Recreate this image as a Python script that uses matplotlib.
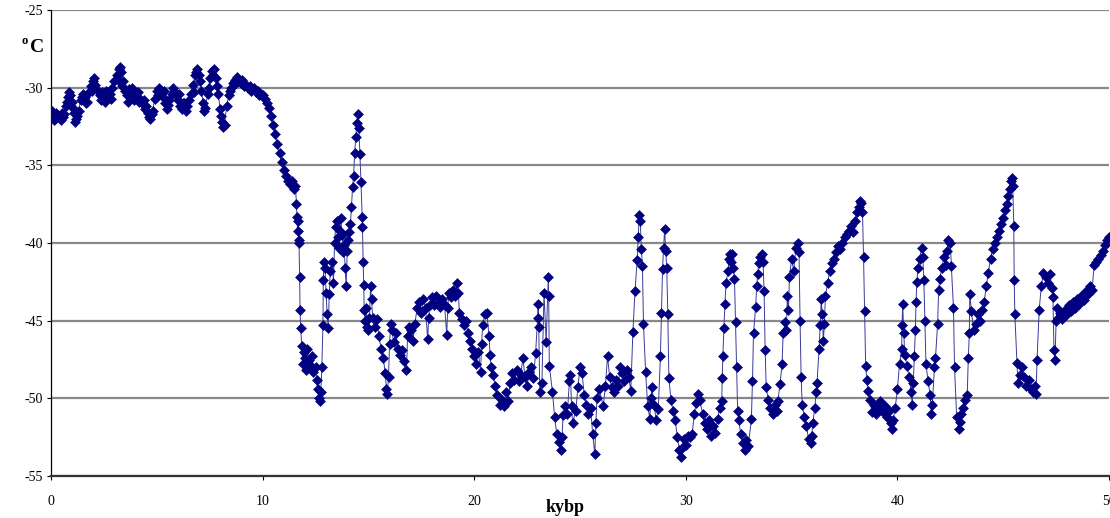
import numpy as np
import matplotlib
matplotlib.use("Agg")
import matplotlib.pyplot as plt

# GISP2-style temperature record (age in kyr BP, temperature in deg C)
holocene = [
    (0.0, -31.7), (0.05, -31.5), (0.1, -31.9), (0.15, -32.1), (0.2, -32.0), (0.25, -31.6),
    (0.3, -31.8), (0.4, -31.9), (0.45, -32.1), (0.5, -31.6), (0.55, -31.9), (0.6, -31.7),
    (0.7, -31.2), (0.75, -30.9), (0.8, -30.6), (0.85, -30.3), (0.9, -30.5), (1.0, -30.9),
    (1.05, -31.3), (1.1, -31.6), (1.15, -32.2), (1.2, -32.0), (1.25, -31.8), (1.3, -31.5),
    (1.4, -30.8), (1.45, -30.6), (1.5, -30.4), (1.6, -30.6), (1.65, -31.0), (1.7, -30.9),
    (1.8, -30.3), (1.9, -29.9), (1.95, -30.2), (2.0, -29.6), (2.05, -29.4), (2.1, -29.8),
    (2.2, -30.2), (2.3, -30.5), (2.35, -30.8), (2.4, -30.3), (2.5, -30.6), (2.55, -30.9),
    (2.6, -30.2), (2.7, -30.5), (2.8, -30.4), (2.85, -30.7), (2.9, -30.0), (3.0, -29.6),
    (3.1, -29.2), (3.15, -29.5), (3.2, -28.8), (3.25, -28.7), (3.3, -29.0), (3.35, -29.9),
    (3.4, -29.6), (3.5, -30.2), (3.6, -30.5), (3.65, -30.9), (3.7, -30.1), (3.8, -30.4),
    (3.85, -30.0), (3.9, -30.8), (4.0, -30.6), (4.1, -30.3), (4.15, -30.9), (4.2, -30.7),
    (4.3, -31.0), (4.4, -30.8), (4.45, -31.4), (4.5, -31.2), (4.6, -31.6), (4.65, -31.9),
    (4.7, -32.0), (4.75, -31.7), (4.8, -31.5), (4.9, -30.7), (5.0, -30.2), (5.05, -30.5),
    (5.1, -30.0), (5.2, -30.4), (5.3, -30.6), (5.35, -30.2), (5.4, -31.0), (5.5, -31.4),
    (5.55, -31.1), (5.6, -30.8), (5.7, -30.4), (5.75, -30.0), (5.8, -30.2), (5.9, -30.5),
    (6.0, -30.8), (6.05, -30.4), (6.1, -31.2), (6.2, -31.4), (6.25, -31.0), (6.3, -31.0),
    (6.4, -31.5), (6.45, -31.2), (6.5, -30.8), (6.6, -30.4), (6.7, -29.8), (6.75, -30.3),
    (6.8, -29.2), (6.85, -29.0), (6.9, -28.8), (7.0, -29.2), (7.05, -29.6), (7.1, -30.2),
    (7.2, -31.0), (7.25, -31.5), (7.3, -31.3), (7.4, -30.4), (7.45, -30.0), (7.5, -29.4),
    (7.6, -28.9), (7.65, -29.2), (7.7, -28.8), (7.8, -29.4), (7.85, -29.9), (7.9, -30.4),
    (8.0, -31.4), (8.05, -31.8), (8.1, -32.2), (8.15, -32.5), (8.2, -32.4), (8.3, -31.2),
    (8.4, -30.5), (8.45, -30.2), (8.5, -30.0), (8.6, -29.7), (8.7, -29.5), (8.75, -29.7),
    (8.8, -29.3), (8.9, -29.5), (9.0, -29.7), (9.05, -29.5), (9.1, -29.9), (9.2, -29.8),
    (9.3, -30.0), (9.4, -29.9), (9.45, -30.2), (9.5, -30.1), (9.6, -30.0), (9.7, -30.3),
    (9.8, -30.2), (9.85, -30.5), (9.9, -30.4), (10.0, -30.5),
]

deglacial = [
    (10.1, -30.7), (10.2, -31.0), (10.3, -31.3), (10.4, -31.8), (10.5, -32.4), (10.6, -33.0),
    (10.7, -33.6), (10.8, -34.2), (10.9, -34.8), (11.0, -35.3), (11.1, -35.7), (11.2, -36.0),
    (11.3, -36.2), (11.4, -36.0), (11.5, -36.5), (11.55, -36.3), (11.6, -37.5), (11.62, -38.3),
    (11.65, -39.2), (11.68, -38.6), (11.7, -39.8), (11.72, -40.0), (11.75, -42.2), (11.77, -44.3),
    (11.8, -45.5), (11.85, -46.6), (11.9, -47.8), (11.95, -47.0), (12.0, -47.4), (12.05, -48.2),
    (12.1, -46.8), (12.2, -47.5), (12.3, -47.9), (12.35, -47.3), (12.4, -48.3), (12.5, -48.0),
    (12.55, -48.8), (12.6, -49.4), (12.65, -50.0), (12.7, -50.2), (12.75, -49.6), (12.8, -48.0),
    (12.85, -45.3), (12.87, -42.4), (12.9, -41.2), (12.95, -41.6), (13.0, -43.2), (13.05, -44.6),
    (13.1, -45.5), (13.15, -43.3), (13.2, -41.8), (13.3, -41.2), (13.35, -42.6), (13.4, -40.0),
    (13.45, -39.0), (13.5, -38.6), (13.55, -39.6), (13.6, -40.3), (13.65, -39.2), (13.7, -38.4),
    (13.75, -39.5), (13.8, -40.6), (13.85, -40.1), (13.9, -41.6), (13.95, -42.8), (14.0, -40.5),
    (14.05, -39.8), (14.1, -39.3), (14.15, -38.8), (14.2, -37.7), (14.25, -36.4), (14.3, -35.7),
    (14.35, -34.2), (14.4, -33.2), (14.45, -32.3), (14.5, -31.7), (14.55, -32.6), (14.6, -34.3),
    (14.65, -36.1), (14.7, -38.3), (14.72, -39.0), (14.75, -41.2), (14.78, -42.7), (14.8, -44.3),
    (14.85, -45.0), (14.9, -44.2), (14.95, -45.4), (15.0, -45.6), (15.05, -44.8), (15.1, -42.8),
    (15.15, -43.6), (15.2, -44.8), (15.3, -45.4), (15.4, -44.9), (15.5, -46.0), (15.6, -46.8),
    (15.7, -47.4), (15.8, -48.4), (15.85, -49.4), (15.9, -49.7), (15.95, -48.6), (16.0, -46.5),
    (16.05, -45.2), (16.1, -45.6), (16.2, -46.4), (16.3, -45.8), (16.4, -46.8), (16.5, -47.2),
    (16.6, -46.9), (16.7, -47.6), (16.8, -48.2), (16.85, -46.0), (16.9, -45.4), (17.0, -45.6),
    (17.1, -46.3), (17.2, -45.2), (17.3, -44.2), (17.4, -43.8), (17.5, -44.5), (17.6, -43.6),
    (17.7, -44.2), (17.8, -46.2), (17.85, -44.8), (17.9, -44.0), (18.0, -43.5), (18.1, -44.0),
    (18.2, -43.4), (18.3, -43.9), (18.4, -44.1), (18.5, -43.6), (18.6, -44.0), (18.7, -45.9),
    (18.75, -44.2), (18.8, -43.2), (18.9, -43.5), (19.0, -43.0), (19.1, -43.4), (19.2, -42.6),
    (19.25, -43.2), (19.3, -44.5), (19.4, -44.9), (19.5, -45.3), (19.6, -45.0), (19.7, -45.8),
    (19.8, -46.3), (19.9, -46.8), (20.0, -47.3),
]

stadials_20_30 = [
    (20.1, -47.8), (20.2, -47.0), (20.3, -48.3), (20.35, -46.5), (20.4, -45.3), (20.5, -44.6),
    (20.6, -44.5), (20.7, -46.0), (20.75, -47.2), (20.8, -48.0), (20.9, -48.5), (21.0, -49.2),
    (21.1, -49.8), (21.2, -50.4), (21.3, -50.1), (21.4, -50.5), (21.5, -49.6), (21.6, -50.2),
    (21.7, -49.0), (21.8, -48.4), (21.9, -48.8), (22.0, -48.2), (22.1, -48.9), (22.2, -48.5),
    (22.3, -47.4), (22.4, -48.6), (22.5, -49.2), (22.6, -48.3), (22.7, -48.0), (22.8, -48.7),
    (22.9, -47.1), (23.0, -44.8), (23.02, -43.9), (23.05, -45.4), (23.1, -49.6), (23.2, -49.0),
    (23.3, -43.2), (23.4, -46.4), (23.5, -42.2), (23.52, -43.4), (23.55, -47.9), (23.7, -49.6),
    (23.8, -51.2), (23.9, -52.3), (24.0, -52.8), (24.1, -53.3), (24.15, -52.5), (24.2, -51.1),
    (24.3, -50.5), (24.4, -51.0), (24.5, -48.9), (24.55, -48.5), (24.6, -50.5), (24.65, -51.6),
    (24.8, -50.8), (24.9, -49.3), (25.0, -48.0), (25.1, -48.4), (25.2, -49.8), (25.3, -50.4),
    (25.4, -51.0), (25.5, -50.6), (25.6, -52.3), (25.7, -53.6), (25.75, -51.6), (25.8, -50.0),
    (25.9, -49.4), (26.1, -50.5), (26.2, -49.2), (26.3, -47.3), (26.4, -48.6), (26.5, -49.3),
    (26.6, -49.6), (26.7, -48.8), (26.8, -49.2), (26.9, -48.0), (27.0, -48.4), (27.1, -48.9),
    (27.2, -48.2), (27.3, -48.6), (27.4, -49.5), (27.5, -45.7), (27.6, -43.1), (27.7, -41.1),
    (27.75, -39.6), (27.8, -38.2), (27.85, -38.6), (27.9, -40.4), (27.95, -41.5), (28.0, -45.2),
    (28.1, -48.3), (28.2, -50.5), (28.3, -51.3), (28.35, -50.0), (28.4, -49.3), (28.5, -50.4),
    (28.6, -51.4), (28.7, -50.7), (28.8, -47.3), (28.85, -44.5), (28.9, -41.7), (28.95, -40.3),
    (29.0, -39.1), (29.05, -40.5), (29.1, -41.6), (29.15, -44.6), (29.2, -48.7), (29.3, -50.1),
    (29.4, -50.8), (29.5, -51.4), (29.6, -52.5), (29.7, -53.3), (29.75, -53.8), (29.8, -53.2),
    (29.9, -52.6), (30.0, -53.0), (30.1, -52.4), (30.2, -52.5),
]

stadials_30_40 = [
    (30.3, -52.3), (30.4, -51.0), (30.5, -50.3), (30.6, -49.7), (30.65, -50.1), (30.8, -51.0),
    (30.9, -51.6), (31.0, -52.0), (31.1, -51.4), (31.2, -52.4), (31.3, -51.8), (31.4, -52.2),
    (31.5, -51.3), (31.6, -50.6), (31.7, -50.2), (31.72, -48.7), (31.75, -47.3), (31.8, -45.5),
    (31.85, -43.9), (31.9, -42.6), (32.0, -41.8), (32.05, -41.0), (32.1, -40.7), (32.15, -41.2),
    (32.2, -40.7), (32.25, -41.6), (32.3, -42.3), (32.35, -45.1), (32.4, -48.0), (32.45, -50.8),
    (32.5, -51.4), (32.6, -52.3), (32.7, -52.9), (32.8, -53.3), (32.85, -52.7), (32.95, -53.1),
    (33.1, -51.3), (33.15, -48.9), (33.2, -45.8), (33.3, -44.1), (33.35, -42.8), (33.4, -42.0),
    (33.45, -41.3), (33.5, -40.9), (33.6, -40.7), (33.65, -41.2), (33.7, -43.1), (33.75, -46.9),
    (33.8, -49.3), (33.9, -50.1), (34.0, -50.6), (34.1, -51.0), (34.2, -50.4), (34.3, -50.8),
    (34.35, -50.2), (34.45, -49.1), (34.55, -47.8), (34.6, -45.8), (34.7, -45.1), (34.75, -45.6),
    (34.8, -43.4), (34.85, -44.3), (34.9, -42.2), (35.0, -41.0), (35.1, -41.8), (35.2, -40.3),
    (35.3, -40.0), (35.35, -40.6), (35.4, -45.0), (35.45, -48.6), (35.5, -50.4), (35.6, -51.2),
    (35.7, -51.8), (35.8, -52.6), (35.9, -52.9), (35.95, -52.4), (36.0, -51.6), (36.1, -50.6),
    (36.15, -49.6), (36.2, -49.0), (36.3, -46.8), (36.35, -45.3), (36.4, -43.6), (36.45, -44.6),
    (36.5, -46.3), (36.55, -45.2), (36.6, -43.4), (36.7, -42.6), (36.8, -41.8), (36.9, -41.3),
    (37.0, -41.0), (37.1, -40.6), (37.2, -40.2), (37.3, -40.4), (37.4, -40.0), (37.5, -39.6),
    (37.6, -39.4), (37.7, -39.2), (37.8, -38.9), (37.9, -39.3), (38.0, -38.6), (38.1, -38.0),
    (38.2, -37.7), (38.25, -37.3), (38.3, -37.4), (38.35, -38.0), (38.4, -40.9), (38.45, -44.4),
    (38.5, -47.9), (38.55, -48.8), (38.6, -49.5), (38.7, -50.1), (38.8, -50.9), (38.9, -50.4),
    (39.0, -51.0), (39.1, -50.6), (39.2, -50.2), (39.3, -50.9), (39.4, -50.5), (39.5, -51.2),
    (39.6, -50.8), (39.7, -51.6), (39.75, -52.0), (39.8, -51.4), (39.9, -50.6),
]

stadials_40_50 = [
    (40.0, -49.4), (40.1, -47.8), (40.2, -46.8), (40.22, -45.3), (40.25, -43.9), (40.3, -45.8),
    (40.35, -47.2), (40.45, -47.9), (40.55, -48.6), (40.65, -49.6), (40.7, -50.4), (40.75, -49.0),
    (40.8, -47.3), (40.85, -45.6), (40.88, -43.8), (40.92, -42.5), (40.97, -41.6), (41.05, -41.0),
    (41.15, -40.3), (41.2, -40.9), (41.25, -42.4), (41.3, -45.0), (41.35, -47.8), (41.45, -48.9),
    (41.55, -49.8), (41.6, -51.0), (41.65, -50.4), (41.75, -48.0), (41.8, -47.4), (41.9, -45.2),
    (41.95, -43.0), (42.0, -42.3), (42.1, -41.6), (42.2, -40.9), (42.3, -41.4), (42.35, -40.5),
    (42.4, -39.8), (42.5, -40.0), (42.55, -41.5), (42.65, -44.2), (42.7, -48.0), (42.8, -51.2),
    (42.9, -52.0), (42.95, -51.5), (43.0, -51.0), (43.1, -50.6), (43.2, -50.1), (43.3, -49.8),
    (43.35, -47.4), (43.4, -45.8), (43.42, -43.3), (43.5, -44.4), (43.6, -45.6), (43.7, -45.2),
    (43.8, -44.6), (43.9, -45.0), (44.0, -44.3), (44.1, -43.8), (44.2, -42.8), (44.3, -41.9),
    (44.4, -41.0), (44.5, -40.4), (44.6, -40.0), (44.7, -39.6), (44.8, -39.2), (44.9, -38.8),
    (45.0, -38.4), (45.1, -37.9), (45.2, -37.5), (45.25, -37.0), (45.3, -36.5), (45.35, -36.0),
    (45.4, -35.8), (45.45, -36.3), (45.5, -38.9), (45.52, -42.4), (45.55, -44.6), (45.65, -47.7),
    (45.7, -49.0), (45.8, -48.5), (45.9, -48.0), (46.0, -48.6), (46.1, -49.2), (46.2, -48.8),
    (46.3, -49.4), (46.4, -49.6), (46.5, -49.2), (46.55, -49.7), (46.6, -47.5), (46.7, -44.3),
    (46.8, -42.8), (46.9, -41.9), (47.0, -42.2), (47.1, -42.6), (47.2, -42.0), (47.3, -42.9),
    (47.35, -43.5), (47.4, -46.9), (47.45, -47.5), (47.5, -45.0), (47.55, -44.2), (47.6, -44.8),
    (47.7, -44.5), (47.8, -44.9), (47.9, -44.3), (48.0, -44.6), (48.1, -44.0), (48.2, -44.4),
    (48.3, -43.8), (48.4, -44.2), (48.5, -43.6), (48.6, -43.9), (48.7, -43.4), (48.8, -43.7),
    (48.9, -43.1), (49.0, -43.3), (49.1, -42.8), (49.2, -43.0), (49.3, -41.4), (49.4, -41.2),
    (49.5, -41.0), (49.6, -40.8), (49.7, -40.5), (49.8, -40.1), (49.9, -39.8), (50.0, -39.6),
]

x_ticks = [0, 10, 20, 30, 40, 50]
y_ticks = [-55, -50, -45, -40, -35, -30, -25]

# Combine segments
record = np.array(holocene + deglacial + stadials_20_30 + stadials_30_40 + stadials_40_50)
age = record[:, 0]
temp = record[:, 1]

plt.rcParams["font.family"] = ["Liberation Serif", "DejaVu Serif"]
plt.rcParams["axes.unicode_minus"] = False

fig = plt.figure(figsize=(11.1, 5.18), dpi=100)
ax = fig.add_axes([51 / 1110, 42 / 518, 1058 / 1110, 466 / 518])

ax.plot(age, temp, color="#3a3a9a", linewidth=0.7, marker="D", markersize=5.3,
        markerfacecolor="#000080", markeredgecolor="#000080", markeredgewidth=0.4, zorder=3)

ax.set_xlim(0, 50)
ax.set_ylim(-55, -25)
ax.set_xticks(x_ticks)
ax.set_yticks(y_ticks)
ax.grid(axis="y", color="#888888", linewidth=1.6)
ax.set_axisbelow(True)

for side in ["top", "right"]:
    ax.spines[side].set_visible(False)
ax.spines["left"].set_color("black")
ax.spines["left"].set_linewidth(0.9)
ax.spines["bottom"].set_color("#333333")
ax.spines["bottom"].set_linewidth(1.6)

ax.tick_params(axis="x", length=3, width=0.8, pad=11, labelsize=10)
ax.tick_params(axis="y", length=3, width=0.8, pad=3, labelsize=10)

fig.text(565 / 1110, 1 - 507 / 518, "kybp", ha="center", va="center",
         fontsize=13, fontweight="bold")
fig.text(37 / 1110, 1 - 48 / 518, "C", ha="center", va="center",
         fontsize=14, fontweight="bold")
fig.text(25 / 1110, 1 - 41 / 518, "o", ha="center", va="center",
         fontsize=9, fontweight="bold")

fig.savefig("out.png", dpi=100)
